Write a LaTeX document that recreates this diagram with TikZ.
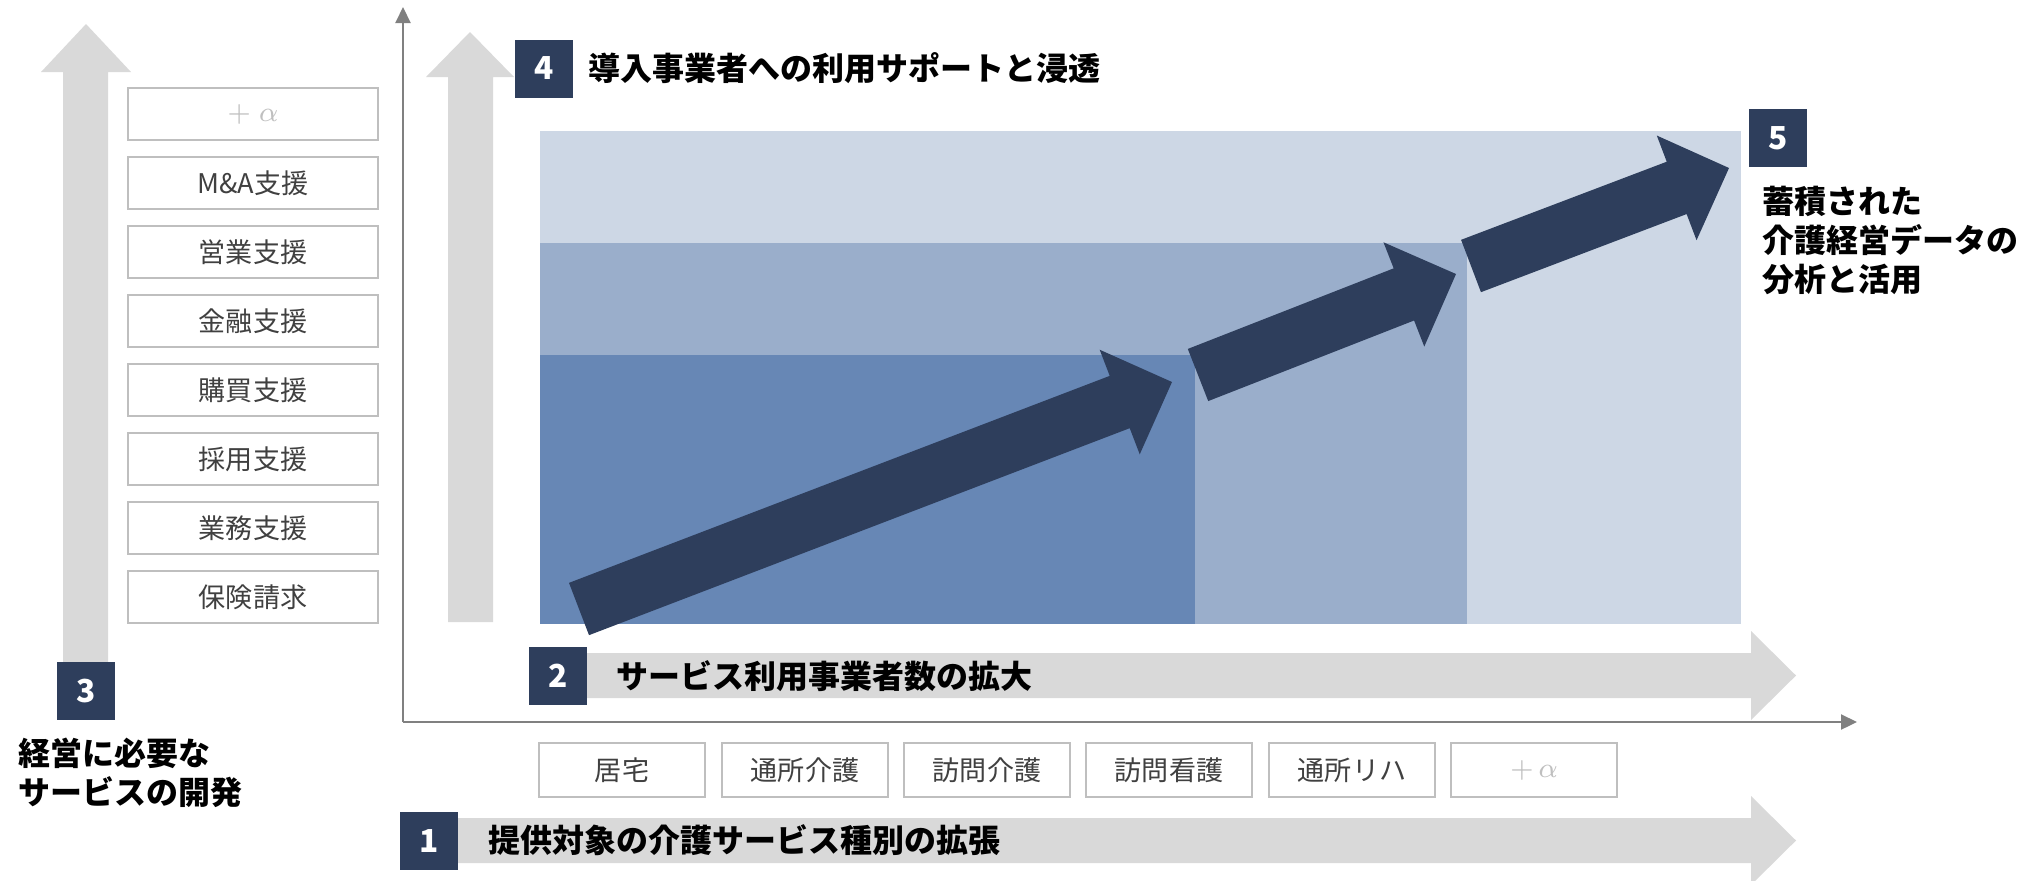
\documentclass[tikz,border=0pt]{standalone}
\usepackage{fontspec}
\setmainfont{Noto Sans CJK JP}
\usetikzlibrary{arrows.meta,calc,positioning}
\definecolor{kgnavy}{RGB}{46,62,92}
\definecolor{kgdark}{RGB}{103,135,181}
\definecolor{kgmid}{RGB}{154,174,203}
\definecolor{kglight}{RGB}{205,215,229}
\definecolor{kggray}{RGB}{217,217,217}
\definecolor{kgaxis}{RGB}{128,128,128}
\definecolor{kgline}{RGB}{191,191,191}
\definecolor{kgtext}{RGB}{64,64,64}
\tikzset{
  numbox/.style={fill=kgnavy,text=white,font=\bfseries\fontsize{9}{10}\selectfont,
    minimum width=5.8mm,minimum height=5.8mm,inner sep=0pt},
  svcbox/.style={draw=kgline,line width=0.5pt,fill=white,text=kgtext,
    font=\fontsize{7.7}{9}\selectfont,minimum width=25mm,minimum height=5.2mm,inner sep=0pt},
  kindbox/.style={svcbox,minimum width=16.6mm,minimum height=5.4mm},
  headtext/.style={font=\bfseries\fontsize{9.1}{11.2}\selectfont,inner sep=0pt,align=left},
  axisline/.style={kgaxis,line width=0.6pt,-{Triangle[length=1.6mm,width=1.5mm]}}
}
% tail, tip
\newcommand{\growarrow}[2]{%
  \coordinate (#1h) at ($(#2)!5.6mm!(#1)$);
  \fill[kgnavy] ($(#1)!2.8mm!90:(#2)$) -- ($(#1h)!2.8mm!90:(#2)$) -- ($(#1h)!5.6mm!90:(#2)$)
    -- (#2) -- ($(#1h)!5.6mm!-90:(#2)$) -- ($(#1h)!2.8mm!-90:(#2)$) -- ($(#1)!2.8mm!-90:(#2)$) -- cycle;
}

\begin{document}
\begin{tikzpicture}
\useasboundingbox (0,0) rectangle (20.39,-8.80);
% Axes
\coordinate (o) at (4.03,-7.22);
\draw[axisline] (o) -- (4.03,-0.07);
\draw[axisline] (o) -- (18.57,-7.22);
% Gray growth arrows
\fill[kggray] (0.63,-6.62) -- (0.63,-0.72) -- (0.41,-0.72) -- (0.86,-0.24) -- (1.31,-0.72) -- (1.08,-0.72) -- (1.08,-6.62) -- cycle;
\fill[kggray] (4.48,-6.22) -- (4.48,-0.77) -- (4.26,-0.77) -- (4.70,-0.32) -- (5.14,-0.77) -- (4.93,-0.77) -- (4.93,-6.22) -- cycle;
\fill[kggray] (5.87,-6.53) -- (17.51,-6.53) -- (17.51,-6.31) -- (17.96,-6.755) -- (17.51,-7.20) -- (17.51,-6.98) -- (5.87,-6.98) -- cycle;
\fill[kggray] (4.57,-8.18) -- (17.51,-8.18) -- (17.51,-7.96) -- (17.96,-8.405) -- (17.51,-8.85) -- (17.51,-8.63) -- (4.57,-8.63) -- cycle;
% Steps
\fill[kglight] (5.40,-1.31) rectangle (17.41,-6.24);
\fill[kgmid] (5.40,-2.43) rectangle (14.67,-6.24);
\fill[kgdark] (5.40,-3.55) rectangle (11.95,-6.24);
% Navy arrows
\coordinate (a) at (5.79,-6.09); \coordinate (atip) at (11.72,-3.82);
\coordinate (b) at (11.98,-3.75); \coordinate (btip) at (14.56,-2.74);
\coordinate (c) at (14.71,-2.66); \coordinate (ctip) at (17.29,-1.68);
\growarrow{a}{atip}
\growarrow{b}{btip}
\growarrow{c}{ctip}
% Left list: management services
\node[svcbox,text=kgline] (s8) at (2.53,-1.14) {$+\;\alpha$};
\node[svcbox] (s7) at (2.53,-1.83) {M\&A支援};
\node[svcbox] (s6) at (2.53,-2.52) {営業支援};
\node[svcbox] (s5) at (2.53,-3.21) {金融支援};
\node[svcbox] (s4) at (2.53,-3.90) {購買支援};
\node[svcbox] (s3) at (2.53,-4.59) {採用支援};
\node[svcbox] (s2) at (2.53,-5.28) {業務支援};
\node[svcbox] (s1) at (2.53,-5.97) {保険請求};
% Bottom row: care service kinds
\node[kindbox] (k1) at (6.22,-7.70) {居宅};
\node[kindbox] (k2) at (8.05,-7.70) {通所介護};
\node[kindbox] (k3) at (9.87,-7.70) {訪問介護};
\node[kindbox] (k4) at (11.69,-7.70) {訪問看護};
\node[kindbox] (k5) at (13.52,-7.70) {通所リハ};
\node[kindbox,text=kgline] (k6) at (15.34,-7.70) {$+\,\alpha$};
% Numbered labels
\node[numbox] (n1) at (4.29,-8.405) {1};
\node[headtext,right=2.9mm of n1] (t1) {提供対象の介護サービス種別の拡張};
\node[numbox] (n2) at (5.58,-6.76) {2};
\node[headtext,right=2.8mm of n2] (t2) {サービス利用事業者数の拡大};
\node[numbox] (n3) at (0.86,-6.91) {3};
\node[headtext,anchor=west] (t3) at (0.18,-7.725) {経営に必要な\\サービスの開発};
\node[numbox] (n4) at (5.44,-0.685) {4};
\node[headtext,right=1.4mm of n4] (t4) {導入事業者への利用サポートと浸透};
\node[numbox] (n5) at (17.78,-1.38) {5};
\node[headtext,anchor=west] (t5) at (17.62,-2.405) {蓄積された\\介護経営データの\\分析と活用};
\end{tikzpicture}
\end{document}
